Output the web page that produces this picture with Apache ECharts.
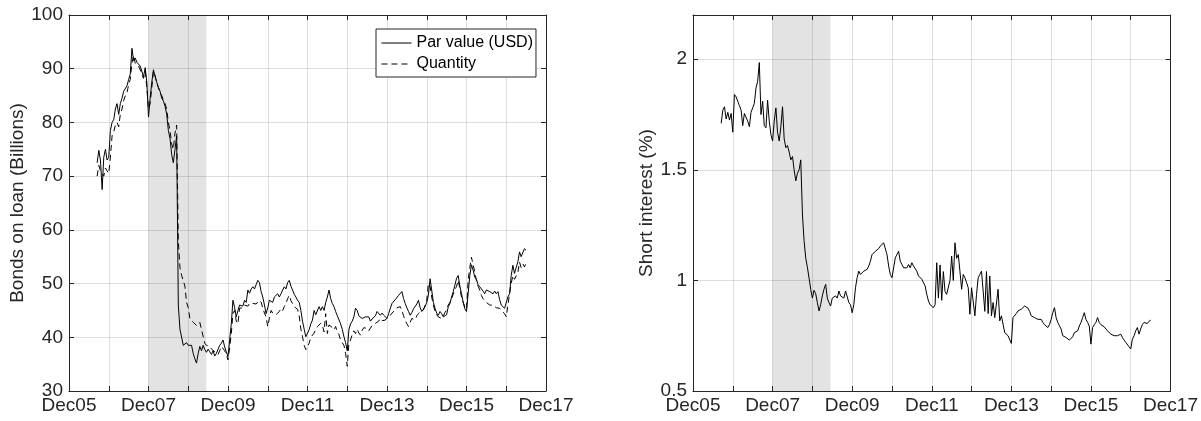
<!DOCTYPE html>
<html>
<head>
<meta charset="utf-8">
<title>Bonds on loan and short interest</title>
<script src="https://cdn.jsdelivr.net/npm/echarts@6/dist/echarts.min.js"></script>
<style>
  html, body { margin: 0; padding: 0; background: #ffffff; }
  #chart { width: 1201px; height: 421px; }
</style>
</head>
<body>
<div id="chart"></div>
<script>
// Semi-monthly observations (1st and 16th of each month), Aug 2006 - Jun 2017
const firstDate = '2006-08-16';

// Bonds on loan, par value (USD billions)
const parValue = [
  72.5, 74.8, 73, 67.5, 73.5, 75, 73, 73.5, 78.5,
  80, 80.5, 82.5, 83.5, 81.5, 83.5, 84.5, 85.8, 86, 86.8, 88, 89, 93.8, 91.5, 92, 91.2, 91.5, 90.5, 90.2, 88.5, 90.2, 87.5, 81, 84.5,
  87.5, 89.8, 88.5, 87.5, 86.5, 85.8, 84.5, 84, 83, 81.5, 78.5, 77, 74, 72.5, 75, 77.5, 46, 41.5, 40, 38.5, 38.5, 39, 38.5, 38.3,
  38.5, 37, 36, 35.2, 37, 38.3, 37.5, 38.5, 37.7, 37.2, 37.8, 37.3, 36.8, 37.5, 36.5, 37, 37.8, 38.5, 38.9, 39.5, 38.2, 37.3, 36.4, 39.5,
  42.6, 46.9, 45.5, 43.8, 45, 46, 46.3, 45.8, 46.9, 46.5, 48.8, 48.2, 49, 49.4, 49, 49.8, 50.6, 50.2, 48.5, 47.5, 46, 44.4, 45.5, 46.9,
  47, 46.5, 47.5, 47.2, 48.1, 47.5, 48.1, 48.8, 49.4, 49, 50.2, 50.6, 49.5, 48.8, 48, 47.5, 46.9, 46.5, 45, 43, 41.5, 40.1, 39.8, 41.4,
  42.5, 43.2, 45, 44.2, 44.4, 45.7, 45, 45.7, 45, 46.5, 47.5, 48.8, 47.2, 46.3, 45.7, 44.8, 44, 43.8, 42.5, 41.5, 40.1, 39, 37.5, 41.4,
  42.5, 43, 43.8, 45.4, 45, 44, 44.1, 43.5, 43.2, 43.8, 43.5, 43.8, 43, 43.4, 43.2, 44, 44.8, 44.6, 44.1, 44.5, 44.1, 43.8, 43.5, 44.4,
  45.4, 46.3, 46.5, 47, 47.2, 47.8, 48, 48.5, 47.2, 46.3, 45.5, 44.8, 44.1, 44.6, 45.3, 45.4, 46.2, 46.9, 45.5, 44.8, 45.2, 45.7, 46.5, 47.8,
  50.9, 48.8, 46.5, 45.4, 44.5, 44.1, 44.8, 44.4, 43.8, 43.5, 44.2, 45.7, 46.3, 47.5, 48.5, 49.7, 51, 51.5, 49.5, 48.1, 46.5, 45.3, 44.8, 48.1,
  51.5, 53.5, 52.5, 51.2, 50.8, 49.8, 49.4, 49, 48.6, 48.1, 48.8, 49.1, 48.5, 48.3, 48.1, 48.6, 48.1, 48.5, 47, 46, 45.7, 45.4, 45.1, 47.5,
  48.1, 51.5, 53.4, 51.9, 53, 54, 55.9, 55, 55.2, 56.5, 56.2
];

// Bonds on loan, quantity (billions)
const quantity = [
  70, 72, 71, 70.5, 70, 71.5, 71, 70.5, 73.5,
  77.5, 78.2, 79.5, 80, 79.2, 81.5, 82.5, 84, 85, 85.5, 87, 88, 91, 92.5, 91, 90.8, 90.5, 89.8, 89, 88.2, 89.5, 86.5, 82.5, 83.5,
  86.5, 89.5, 88.8, 87.2, 86.5, 85.5, 85, 84.2, 83.5, 82.5, 80, 78.5, 76, 75, 78, 79.5, 58, 53, 51.5, 51.2, 49.5, 46.5, 45.5, 43.5,
  43.2, 42.8, 42.6, 42.2, 42, 42.8, 41.4, 40.2, 38.9, 38.5, 38.8, 38.3, 37.8, 37.5, 37.3, 37.3, 36.8, 37.5, 38.3, 38.6, 37.5, 36.8, 35.8, 38,
  40.7, 44.5, 45, 43, 42.5, 45.4, 45.7, 45.5, 46, 46.3, 45.8, 46.3, 46.5, 46.3, 46, 46.2, 46.5, 46.9, 46.5, 45.5, 44.5, 43.8, 42, 43.5,
  45, 44.5, 44.8, 44.2, 44.1, 44.8, 45.4, 45, 45.7, 46.3, 47.2, 47.8, 46.8, 46.3, 45.7, 45.5, 45.2, 44, 41.5, 40.1, 38.5, 37.7, 38, 38.9,
  40, 40.1, 40.8, 41.5, 42, 41.8, 42.6, 42.2, 41, 44.4, 40.7, 42.3, 42.6, 41.8, 41.4, 42, 41, 40.5, 39.5, 39.2, 38.5, 37, 34.6, 38.9,
  39.5, 40.5, 41.2, 40.7, 41.5, 40.8, 40.4, 41.3, 41.8, 42, 41.6, 41.2, 41.4, 42.2, 42, 42.6, 42.3, 43, 43.5, 43.1, 42.8, 43.2, 43.6, 43.4,
  44.1, 44.5, 44.8, 45.1, 45.5, 45.4, 45.7, 45, 44, 43.2, 42.5, 42, 42.8, 43.5, 43.8, 43.3, 44, 44.4, 44.8, 44.5, 45.1, 46, 46.9, 50,
  49.5, 47.5, 46, 44.8, 44.2, 43.8, 43.9, 43.5, 44, 44.6, 45.1, 46, 46.5, 47.2, 48, 48.8, 49.5, 50.6, 49, 47.5, 46.5, 45.7, 45.2, 50.6,
  53, 54.9, 53.5, 52.2, 50.5, 49.5, 48.8, 47.8, 47.2, 46.9, 46.5, 46.2, 46, 45.8, 46, 45.7, 45.5, 45.6, 45.4, 45, 44.7, 44.4, 43.8, 46,
  48.1, 50, 51.5, 50.8, 50.6, 52, 54, 53, 53.7, 53.1, 53.8
];

// Short interest (% of outstanding)
const shortInterest = [
  1.71, 1.77, 1.785, 1.73, 1.76, 1.725, 1.755, 1.67, 1.84,
  1.83, 1.81, 1.79, 1.77, 1.70, 1.755, 1.755, 1.72, 1.695, 1.76, 1.78, 1.80, 1.87, 1.90, 1.985, 1.75, 1.81, 1.70, 1.69, 1.815, 1.72, 1.66, 1.63, 1.72,
  1.78, 1.67, 1.63, 1.695, 1.785, 1.64, 1.60, 1.61, 1.58, 1.545, 1.56, 1.50, 1.45, 1.485, 1.50, 1.545, 1.30, 1.18, 1.10, 1.06, 1.01, 0.96, 0.92, 0.955,
  0.94, 0.90, 0.862, 0.89, 0.93, 0.96, 0.982, 0.92, 0.90, 0.884, 0.92, 0.914, 0.93, 0.92, 0.952, 0.93, 0.937, 0.92, 0.952, 0.96, 0.90, 0.89, 0.854, 0.89,
  0.967, 1.012, 1.042, 1.027, 1.035, 1.042, 1.035, 1.05, 1.065, 1.087, 1.117, 1.125, 1.132, 1.132, 1.144, 1.155, 1.155, 1.17, 1.17, 1.117, 1.065, 1.027, 1.012, 1.057,
  1.102, 1.117, 1.132, 1.087, 1.072, 1.057, 1.065, 1.057, 1.072, 1.057, 1.08, 1.065, 1.057, 1.042, 1.02, 1.012, 1.005, 0.997, 0.975, 0.937, 0.907, 0.89, 0.884, 0.877,
  0.89, 1.08, 0.92, 1.07, 0.91, 1.04, 0.95, 0.937, 0.94, 1.0, 1.11, 1.0, 1.17, 1.10, 1.117, 1.042, 0.96, 1.027, 1.012, 0.99, 0.967, 0.847, 0.967, 0.975,
  0.84, 0.937, 1.012, 1.027, 1.042, 1.05, 0.86, 1.04, 0.85, 1.02, 0.84, 0.9, 0.832, 0.832, 0.96, 0.817, 0.84, 0.847, 0.764, 0.757, 0.75, 0.757, 0.715, 0.832,
  0.84, 0.85, 0.862, 0.865, 0.87, 0.878, 0.884, 0.889, 0.875, 0.86, 0.84, 0.835, 0.832, 0.826, 0.824, 0.83, 0.824, 0.81, 0.80, 0.795, 0.787, 0.80, 0.824, 0.854,
  0.877, 0.832, 0.81, 0.795, 0.78, 0.75, 0.745, 0.742, 0.735, 0.73, 0.738, 0.745, 0.764, 0.77, 0.772, 0.794, 0.81, 0.832, 0.854, 0.824, 0.81, 0.794, 0.712, 0.787,
  0.80, 0.81, 0.832, 0.81, 0.80, 0.794, 0.79, 0.787, 0.772, 0.765, 0.757, 0.755, 0.75, 0.755, 0.75, 0.745, 0.757, 0.742, 0.73, 0.72, 0.712, 0.70, 0.69, 0.734,
  0.75, 0.772, 0.787, 0.757, 0.78, 0.80, 0.81, 0.812, 0.805, 0.815, 0.82
];

// Recession band
const recession = ['2007-12-01', '2009-05-15'];

// X tick labels (every other yearly tick)
const xTickLabels = ['Dec05', '', 'Dec07', '', 'Dec09', '', 'Dec11', '', 'Dec13', '', 'Dec15', '', 'Dec17'];

// ---- helpers -------------------------------------------------------------
// observation dates: the 16th, then alternating 1st / 16th
function buildDates(start, n) {
  const out = [];
  let [y, m, d] = start.split('-').map(Number);
  for (let i = 0; i < n; i++) {
    out.push(y + '-' + String(m).padStart(2, '0') + '-' + String(d).padStart(2, '0'));
    if (d === 1) { d = 16; } else { d = 1; m += 1; if (m > 12) { m = 1; y += 1; } }
  }
  return out;
}
// axis position: years since 1 Dec 2005
function toYears(s) {
  const [y, m, d] = s.split('-').map(Number);
  return (y + (m - 1) / 12 + (d - 1) / 365) - (2005 + 11 / 12);
}

const dates = buildDates(firstDate, parValue.length);
const pairs = vals => vals.map((v, i) => [toYears(dates[i]), v]);

const FONT = '"Liberation Sans", Arial, Helvetica, sans-serif';
const INK = '#262626';
const GRID = 'rgba(38,38,38,0.15)';
const AXIS_FS = 19;

function xAxes(gridIndex) {
  return [
    {
      gridIndex, type: 'value', position: 'bottom', min: 0, max: 12, interval: 1,
      axisLine: { show: true, onZero: false, lineStyle: { color: INK, width: 1 } },
      axisTick: { show: true, inside: true, length: 5, lineStyle: { color: INK } },
      axisLabel: {
        color: INK, fontSize: AXIS_FS, fontFamily: FONT, margin: 5,
        showMinLabel: true, showMaxLabel: true,
        formatter: v => xTickLabels[Math.round(v)] || ''
      },
      splitLine: { show: true, lineStyle: { color: GRID, width: 1 } }
    },
    {
      gridIndex, type: 'value', position: 'top', min: 0, max: 12, interval: 1,
      axisLine: { show: true, onZero: false, lineStyle: { color: INK, width: 1 } },
      axisTick: { show: true, inside: true, length: 5, lineStyle: { color: INK } },
      axisLabel: { show: false },
      splitLine: { show: false }
    }
  ];
}

function yAxes(gridIndex, min, max, interval, name, nameGap) {
  return [
    {
      gridIndex, type: 'value', position: 'left', min, max, interval,
      name, nameLocation: 'middle', nameGap,
      nameTextStyle: { color: INK, fontSize: AXIS_FS, fontFamily: FONT },
      axisLine: { show: true, onZero: false, lineStyle: { color: INK, width: 1 } },
      axisTick: { show: true, inside: true, length: 5, lineStyle: { color: INK } },
      axisLabel: { color: INK, fontSize: AXIS_FS, fontFamily: FONT, margin: 6, showMaxLabel: max % interval === 0 },
      splitLine: { show: true, lineStyle: { color: GRID, width: 1 } }
    },
    {
      gridIndex, type: 'value', position: 'right', min, max, interval,
      axisLine: { show: true, onZero: false, lineStyle: { color: INK, width: 1 } },
      axisTick: { show: true, inside: true, length: 5, lineStyle: { color: INK } },
      axisLabel: { show: false },
      splitLine: { show: false }
    }
  ];
}

const band = {
  silent: true,
  itemStyle: { color: 'rgba(0,0,0,0.11)' },
  label: { show: false },
  data: [[{ xAxis: toYears(recession[0]) }, { xAxis: toYears(recession[1]) }]]
};

const chart = echarts.init(document.getElementById('chart'), null, { renderer: 'canvas' });
chart.setOption({
  animation: false,
  backgroundColor: '#ffffff',
  textStyle: { fontFamily: FONT },
  grid: [
    { left: 69, top: 15, width: 477, height: 376 },
    { left: 693, top: 15, width: 479, height: 376 }
  ],
  xAxis: [...xAxes(0), ...xAxes(1)],
  yAxis: [
    ...yAxes(0, 30, 100, 10, 'Bonds on loan (Billions)', 40),
    ...yAxes(1, 0.5, 2.2, 0.5, 'Short interest (%)', 35)
  ],
  legend: {
    data: ['Par value (USD)', 'Quantity'],
    orient: 'vertical',
    left: 376, top: 29,
    padding: [6, 3, 5, 5],
    itemGap: 5, itemWidth: 30, itemHeight: 16,
    backgroundColor: '#ffffff',
    borderColor: INK, borderWidth: 1, borderRadius: 0,
    itemStyle: { opacity: 0 },
    lineStyle: { width: 1 },
    textStyle: { color: '#000000', fontSize: 16, fontFamily: FONT }
  },
  series: [
    {
      name: 'Par value (USD)', type: 'line', xAxisIndex: 0, yAxisIndex: 0,
      symbol: 'none', z: 3,
      lineStyle: { color: '#000000', width: 1 },
      itemStyle: { color: '#000000' },
      data: pairs(parValue),
      markArea: band
    },
    {
      name: 'Quantity', type: 'line', xAxisIndex: 0, yAxisIndex: 0,
      symbol: 'none', z: 3,
      lineStyle: { color: '#000000', width: 1, type: [6, 4] },
      itemStyle: { color: '#000000' },
      data: pairs(quantity)
    },
    {
      name: 'Short interest', type: 'line', xAxisIndex: 2, yAxisIndex: 2,
      symbol: 'none', z: 3,
      lineStyle: { color: '#000000', width: 1 },
      itemStyle: { color: '#000000' },
      data: pairs(shortInterest),
      markArea: band
    }
  ]
});
</script>
</body>
</html>
